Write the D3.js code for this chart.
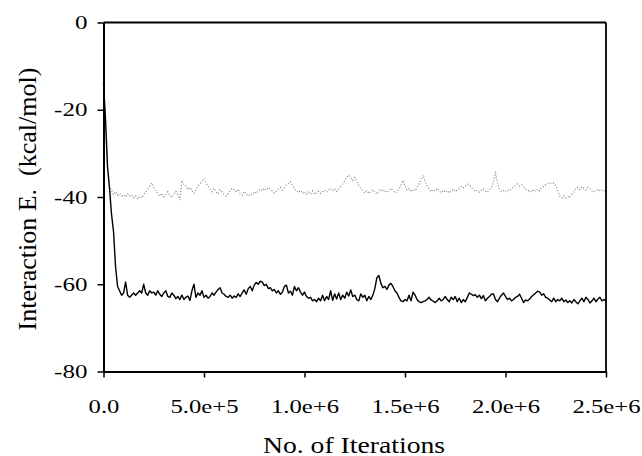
<!DOCTYPE html>
<html lang="en-us">
<meta charset="utf-8">
<head>
<title>Interaction energy vs iterations</title>
<style>
  body { margin: 0; background: #fff; }
  svg { display: block; }
  .axis path, .axis line { stroke: #000; }
  .axis path { stroke-width: 2px; }
  .axis line { stroke-width: 1.5px; }
  .axis text { font-family: "Liberation Serif", "Times New Roman", serif; font-size: 19px; fill: #000; }
  .frame { stroke: #000; stroke-width: 1.8px; }
  .title { font-family: "Liberation Serif", "Times New Roman", serif; fill: #000; }
  .solid { fill: none; stroke: #000; stroke-width: 1.4px; stroke-linejoin: round; }
  .dotted { fill: none; stroke: #808080; stroke-width: 1.2px; stroke-dasharray: 1 2; }
</style>
</head>
<body>
<svg width="642" height="456"></svg>
<script src="https://cdn.jsdelivr.net/npm/d3@7"></script>
<script>

// sampling step of both traces, in iterations
var step = 10000;

// solid trace (kcal/mol), one value per 10000 iterations from 0 to 2.5e6
var solidE = [
  -14, -22, -33, -38, -44, -48, -56, -60.5, -61.5, -62.5,
  -62, -59.5, -62.5, -63, -62.5, -62, -62.5, -62, -61.5, -62,
  -60, -62, -62.5, -61.5, -62, -61.8, -62.5, -61.5, -62.3, -62.8,
  -62, -61.5, -62.8, -63, -62, -62.5, -63.3, -62.8, -63.5, -62.5,
  -63.5, -63, -62.7, -63.7, -61.5, -60, -63, -62, -62.5, -61.5,
  -63, -62.5, -63.2, -62.8, -62, -62.5, -61.8, -61.2, -60.8, -62,
  -62.3, -62.8, -63, -62.5, -63.2, -62.7, -63, -62.2, -62.8, -62,
  -61.3, -62.3, -61, -60.5, -61.5, -60.2, -59.6, -60, -59.3, -59.5,
  -60.3, -60, -61, -60.8, -61.5, -61.2, -62, -61.5, -62.3, -61.8,
  -60.5, -60.2, -62, -61.6, -62.5, -60.5, -61.5, -60.8, -61.8, -62.5,
  -61.8, -62.8, -63.2, -63, -63.8, -63.5, -64, -63.2, -63.8, -62.5,
  -63.8, -62.8, -63.5, -61.5, -63.7, -62.2, -63.4, -62, -63.5, -62.5,
  -63.2, -61.8, -62.7, -61.3, -62.8, -62.5, -63.5, -63.8, -62.2, -63,
  -62.5, -63.8, -62.8, -63.5, -62.5, -61, -58.5, -58, -59.8, -60.8,
  -60.5, -61.2, -60.2, -59.8, -60.5, -61.5, -62, -63, -63.8, -64,
  -63.5, -63.8, -62.5, -63.8, -61.8, -62.5, -63.5, -64, -64.2, -64,
  -63.8, -63.5, -63, -63.6, -63.9, -64.2, -63.8, -63.2, -63.8, -63.5,
  -62.8, -63.5, -64, -63, -63.5, -62.8, -64, -63.2, -64.2, -63.5,
  -64, -63, -62, -62.3, -62.6, -62.4, -63, -62.5, -63.3, -62.6,
  -63.8, -63.2, -62.8, -62.3, -62.2, -63.5, -64, -63.2, -62.5, -62,
  -62.8, -63.5, -63.2, -63.8, -63.5, -63, -62.8, -62.3, -63.2, -64.2,
  -63.6, -63.8, -63.4, -62.8, -62.4, -62, -61.6, -61.8, -62.5, -62.2,
  -63, -63.2, -63.6, -64, -63.2, -64, -63.5, -63.8, -63.2, -64,
  -63.6, -64.2, -63.8, -64.3, -63.5, -64, -64.5, -63.8, -63.2, -64,
  -63, -63.5, -64.3, -63.8, -63.2, -64, -63.4, -63, -63.8, -63.5,
  -63.8
];

// dotted trace (kcal/mol), same sampling
var dottedE = [
  -14, -24, -34, -37.5, -38.5, -39.5, -38.8, -39.6, -39.2, -39.8,
  -39.5, -40, -39.3, -39.8, -39.5, -40.2, -39.7, -40.5, -39.8, -40.2,
  -39.4, -38.9, -38.2, -37.6, -36.8, -37.8, -38.5, -39.3, -39.8, -39.2,
  -40, -39.5, -38.8, -39.6, -40.1, -39.2, -38.7, -39.5, -40.7, -36.2,
  -37.2, -37.5, -38.3, -37.8, -38.6, -39.2, -38.4, -37.5, -37, -36.4,
  -35.8, -36.8, -37.6, -38.2, -38.8, -38, -38.9, -39.3, -38.4, -38.8,
  -39.5, -39.8, -39.2, -38.6, -38, -38.3, -38.9, -38.2, -39.3, -39.6,
  -38.7, -39.2, -39.8, -39.3, -39.5, -38.8, -39.2, -38.5, -38.2, -38.6,
  -38, -38.4, -37.8, -38.3, -38.6, -39.1, -38.7, -38.2, -37.8, -38.4,
  -37.8, -37.2, -36.9, -36.5, -37.4, -38.2, -38.6, -39, -38.5, -39.2,
  -38.8, -39.5, -38.9, -39.3, -38.6, -39.4, -39, -38.7, -39.2, -38.8,
  -38.4, -38.9, -38.3, -38, -38.6, -38.1, -38.7, -38.2, -37.6, -37,
  -36.3, -35.4, -35, -35.6, -36.2, -35.5, -36.5, -37.4, -38, -38.6,
  -39, -38.5, -39.2, -38.7, -38.3, -38.9, -39.3, -38.6, -38.2, -38.8,
  -38.4, -39, -38.6, -38, -38.5, -39.1, -38.7, -38.2, -37.3, -36.2,
  -37.4, -38.5, -38, -38.8, -38.3, -38.6, -37.8, -37, -36, -35,
  -36.4, -37.6, -38.2, -38.8, -38.3, -38.6, -38, -38.7, -39, -38.4,
  -38.9, -38.5, -39.1, -38.6, -38.2, -38.8, -38.4, -38, -37.6, -37.9,
  -37.4, -37, -37.2, -37.8, -38.3, -38.7, -38.5, -38.9, -38.4, -38.1,
  -38.6, -38.9, -38.3, -37.8, -36.5, -34.2, -37, -38.2, -38.7, -38.5,
  -38.9, -38.4, -38.6, -38.1, -37.7, -37.3, -37, -37.5, -37.2, -37.6,
  -38.2, -38.6, -38.5, -38.9, -38.3, -38.7, -38.2, -38.6, -37.9, -37.5,
  -37.2, -36.9, -36.7, -37, -36.8, -37.4, -38.6, -39.8, -40.2, -39.7,
  -40.3, -39.9, -40.2, -39.4, -38.8, -38.2, -37.8, -38.3, -37.6, -38,
  -38.4, -37.8, -38.1, -38.6, -38.9, -38.5, -38.2, -38.7, -38.4, -38.6,
  -38.3
];

var xTicks = [0, 5e5, 1e6, 1.5e6, 2e6, 2.5e6];
var xTickLabels = ["0.0", "5.0e+5", "1.0e+6", "1.5e+6", "2.0e+6", "2.5e+6"];
var yTicks = [-80, -60, -40, -20, 0];
var yTickLabels = ["-80", "-60", "-40", "-20", "0"];

var svg = d3.select("svg");

var x = d3.scaleLinear().domain([0, 2.5e6]).range([103.5, 606]);
var y = d3.scaleLinear().domain([-80, 0]).range([371.5, 22.5]);

var line = d3.line()
    .x(function(d, i) { return x(i * step); })
    .y(function(d) { return y(d); });

// frame: top and right edges
svg.append("line").attr("class", "frame")
    .attr("x1", x(0)).attr("x2", x(2.5e6)).attr("y1", y(0)).attr("y2", y(0));
svg.append("line").attr("class", "frame")
    .attr("x1", x(2.5e6)).attr("x2", x(2.5e6)).attr("y1", y(0)).attr("y2", y(-80));

svg.append("path").attr("class", "dotted").attr("d", line(dottedE));
svg.append("path").attr("class", "solid").attr("d", line(solidE));

var xAxis = svg.append("g")
    .attr("class", "axis")
    .attr("transform", "translate(0," + y(-80) + ")")
    .call(d3.axisBottom(x).tickValues(xTicks).tickSize(6).tickSizeOuter(0)
      .tickFormat(function(d, i) { return xTickLabels[i]; }));
xAxis.selectAll("text")
    .attr("y", 0).attr("dy", 0)
    .attr("transform", "translate(0,41) scale(1.3,1)");

var yAxis = svg.append("g")
    .attr("class", "axis")
    .attr("transform", "translate(" + x(0) + ",0)")
    .call(d3.axisLeft(y).tickValues(yTicks).tickSize(6).tickSizeOuter(0)
      .tickFormat(function(d, i) { return yTickLabels[i]; }));
yAxis.selectAll("text")
    .attr("x", 0)
    .attr("transform", "translate(-16,0) scale(1.32,1)");

svg.append("text")
    .attr("class", "title")
    .attr("text-anchor", "middle")
    .attr("transform", "translate(354,453) scale(1.23,1)")
    .style("font-size", "22.5px")
    .text("No. of Iterations");

svg.append("text")
    .attr("class", "title")
    .attr("text-anchor", "middle")
    .attr("transform", "translate(35.5,199) rotate(-90)")
    .style("font-size", "26px")
    .style("white-space", "pre")
    .text("Interaction E.  (kcal/mol)");

</script>
</body>
</html>
